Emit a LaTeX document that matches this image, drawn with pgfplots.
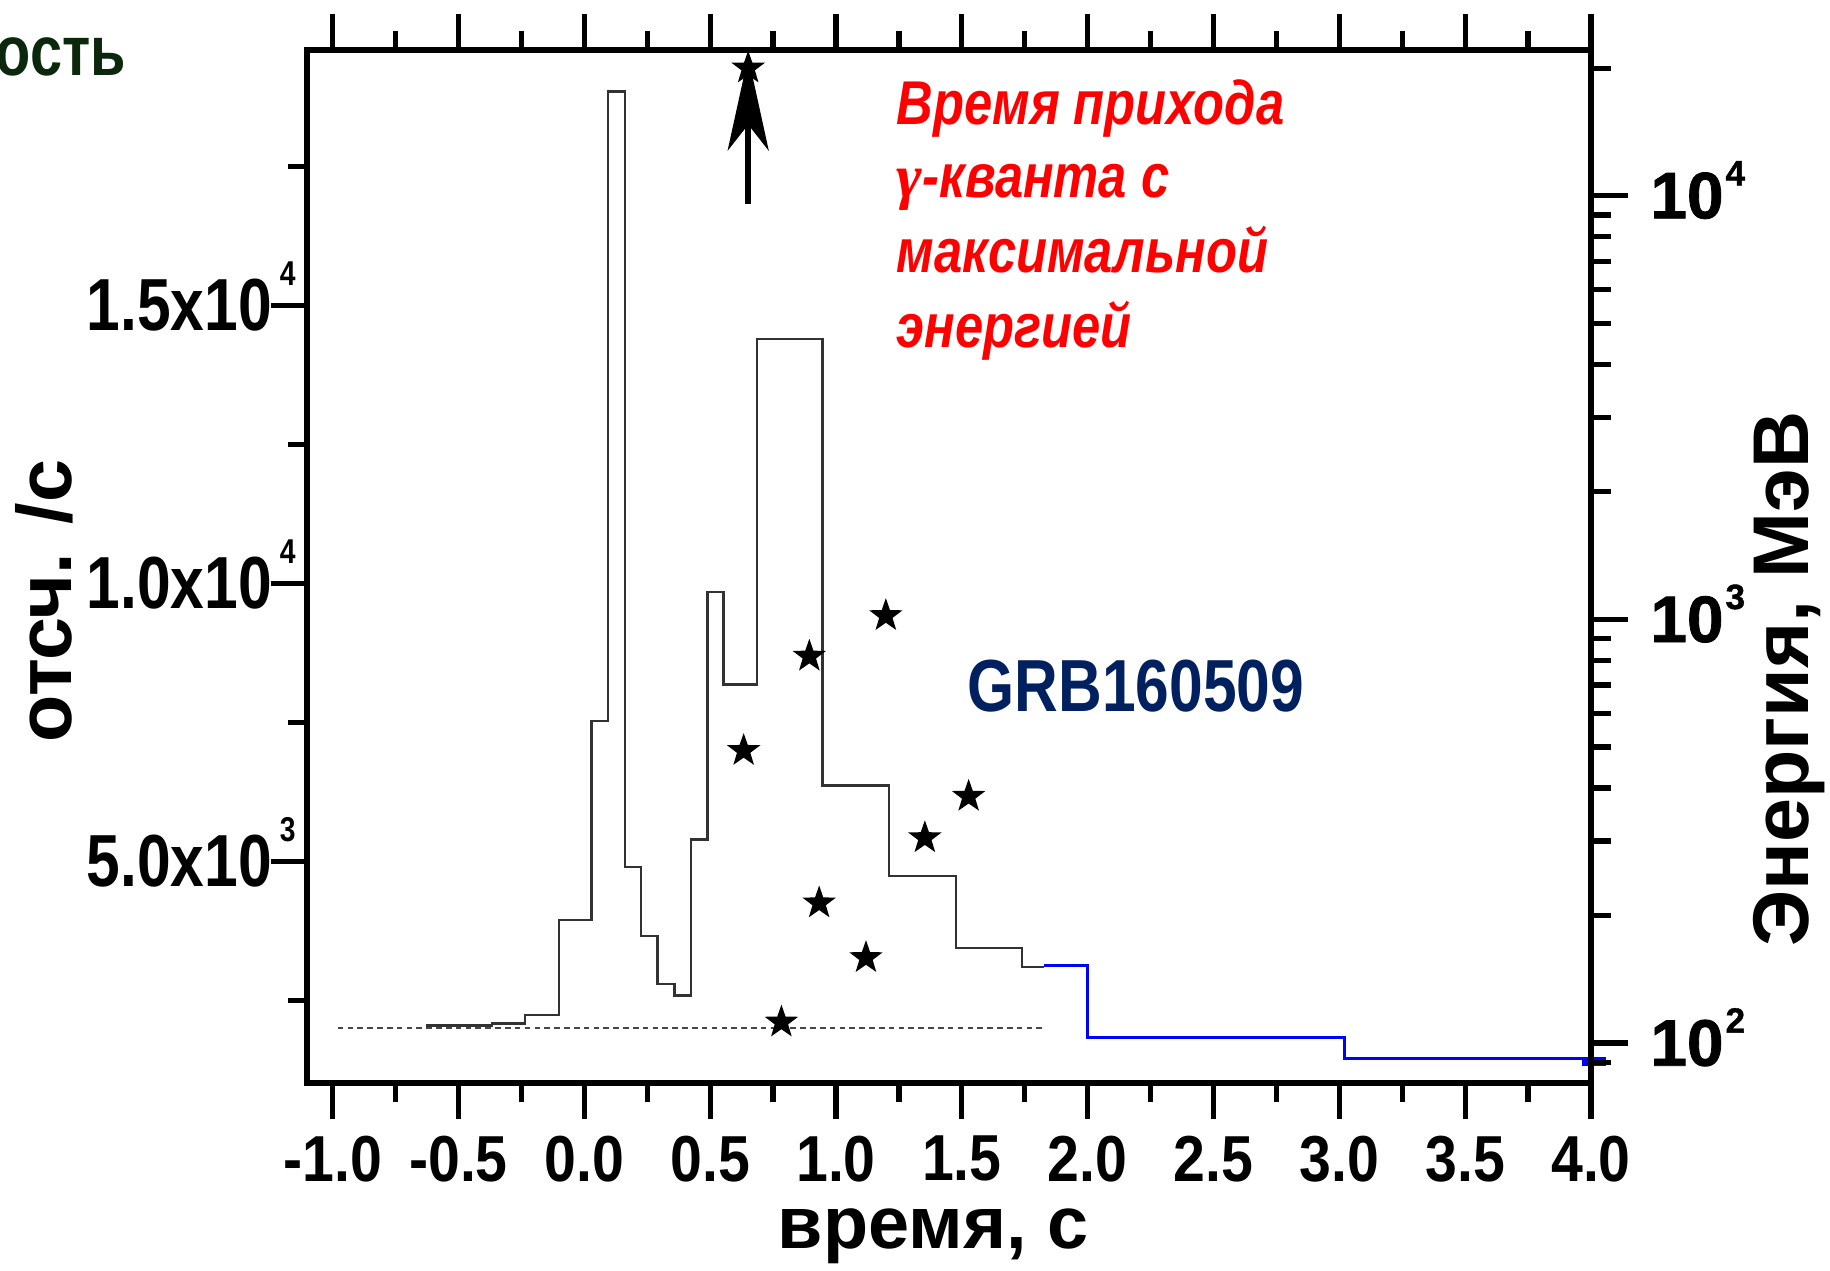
\documentclass[border=0pt]{standalone}
\usepackage{fontspec}
\usepackage{pgfplots}
\pgfplotsset{compat=1.18}
\usetikzlibrary{arrows.meta}
\setmainfont{Liberation Sans}
\newfontfamily\sqf[FakeStretch=0.82]{Liberation Sans}
\newfontfamily\tkf[FakeStretch=0.88]{Liberation Sans}
\newfontfamily\heavyf[UprightFont=* Bold, FakeBold=1.2]{Liberation Sans}
\newfontfamily\gammaf{Liberation Serif}
\definecolor{navy}{RGB}{0,32,96}
\definecolor{dgreen}{RGB}{12,40,12}
\definecolor{histgray}{RGB}{50,50,50}
\newcommand\lsup[1]{\hspace{0.08cm}\smash{\raisebox{0.45cm}{\fontsize{9.8}{9.8}\selectfont #1}}}
\newcommand\rsup[1]{\hspace{0.02cm}\smash{\raisebox{0.33cm}{\fontsize{10}{10}\selectfont #1}}}
\pgfdeclareplotmark{fstar}{%
  \pgfpathmoveto{\pgfpointpolar{90}{\pgfplotmarksize}}%
  \pgfpathlineto{\pgfpointpolar{126}{0.4\pgfplotmarksize}}%
  \pgfpathlineto{\pgfpointpolar{162}{\pgfplotmarksize}}%
  \pgfpathlineto{\pgfpointpolar{198}{0.4\pgfplotmarksize}}%
  \pgfpathlineto{\pgfpointpolar{234}{\pgfplotmarksize}}%
  \pgfpathlineto{\pgfpointpolar{270}{0.4\pgfplotmarksize}}%
  \pgfpathlineto{\pgfpointpolar{306}{\pgfplotmarksize}}%
  \pgfpathlineto{\pgfpointpolar{342}{0.4\pgfplotmarksize}}%
  \pgfpathlineto{\pgfpointpolar{18}{\pgfplotmarksize}}%
  \pgfpathlineto{\pgfpointpolar{54}{0.4\pgfplotmarksize}}%
  \pgfpathclose
  \pgfusepathqfill
}
\begin{document}
\begin{tikzpicture}
\useasboundingbox (0,0) rectangle (18.3,12.71);
% ---------- left axis: count rate ----------
\begin{axis}[
  at={(3.07cm,1.88cm)}, anchor=south west,
  scale only axis, width=12.84cm, height=10.33cm,
  xmin=-1.102, xmax=4.0, ymin=1010, ymax=19600,
  scaled ticks=false,
  axis line style={line width=1.6pt},
  tick style={line width=1.5pt, black},
  tick align=outside,
  major tick length=0.36cm, minor tick length=0.19cm,
  xtick={-1,-0.5,0,0.5,1,1.5,2,2.5,3,3.5,4},
  xticklabels={-1.0,-0.5,0.0,0.5,1.0,1.5,2.0,2.5,3.0,3.5,4.0},
  minor xtick={-0.75,-0.25,0.25,0.75,1.25,1.75,2.25,2.75,3.25,3.75},
  ytick={5000,10000,15000},
  yticklabels={{5.0x10\lsup{3}},{1.0x10\lsup{4}},{1.5x10\lsup{4}}},
  minor ytick={2500,7500,12500,17500},
  xtick pos=both, ytick pos=left,
  xticklabel style={font=\tkf\bfseries\fontsize{18.5}{18.5}\selectfont, anchor=north, inner sep=0pt, yshift=-0.16cm},
  yticklabel style={font=\sqf\bfseries\fontsize{21}{21}\selectfont, anchor=east, xshift=0.37cm},
  clip=false,
]
\addplot[gray!55!black, line width=0.7pt, dash pattern=on 1.6pt off 1.2pt] coordinates {(-0.98,2000) (1.83,2000)};
\addplot[histgray, line width=0.7pt, const plot mark left] coordinates {
(-0.630,2043) (-0.367,2080) (-0.235,2230) (-0.100,3941) (0.028,7525)
(0.094,18850) (0.161,4894) (0.226,3653) (0.290,2794) (0.359,2588)
(0.424,5395) (0.489,9844) (0.553,8183) (0.687,14400) (0.946,6360)
(1.211,4731) (1.476,3440) (1.739,3101) (1.828,3101)};
\addplot[blue, line width=0.85pt, const plot mark left] coordinates {
(1.828,3132) (2.000,1823) (3.020,1458) (4.000,1458)};
\addplot[blue, line width=2.6pt] coordinates {(3.965,1400) (4.06,1400)};
\end{axis}
% ---------- right axis: photon energy ----------
\begin{axis}[
  at={(3.07cm,1.88cm)}, anchor=south west,
  scale only axis, width=12.84cm, height=10.33cm,
  xmin=-1.102, xmax=4.0, ymode=log, ymin=80.5, ymax=22080,
  axis x line=none, axis y line*=right,
  y axis line style={-, line width=1.6pt},
  tick style={line width=1.5pt, black},
  tick align=outside,
  major tick length=0.37cm, minor tick length=0.2cm,
  ytick={100,1000,10000},
  yticklabels={{10\rsup{2}},{10\rsup{3}},{10\rsup{4}}},
  minor ytick={90,200,300,400,500,600,700,800,900,2000,3000,4000,5000,6000,7000,8000,9000,20000},
  yticklabel style={font=\heavyf\fontsize{18.7}{18.7}\selectfont, anchor=west, xshift=0.1cm},
]
\draw[black, line width=1.6pt, -{Stealth[length=9.4mm,width=4.1mm,inset=2.6mm]}]
  (axis cs:0.651,9570) -- (axis cs:0.651,21300);
\addplot[only marks, mark=fstar, mark size=5pt, black] coordinates {
(0.651,20000) (0.633,490) (0.894,818) (1.198,1020) (1.527,382)
(1.353,305) (0.933,214) (1.119,159) (0.783,112)};
\end{axis}
% ---------- texts ----------
\node[anchor=base west, inner sep=0, text=dgreen, font=\sqf\bfseries\fontsize{20}{20}\selectfont] at (-0.05,11.95) {ость};
\node[anchor=base west, inner sep=0, text=navy, font=\sqf\bfseries\fontsize{21}{21}\selectfont] at (9.67,5.59) {GRB160509};
\node[anchor=base west, inner sep=0, text=red, font=\sqf\bfseries\itshape\fontsize{17.6}{17.6}\selectfont] at (8.96,11.46) {Время прихода};
\node[anchor=base west, inner sep=0, text=red, font=\sqf\bfseries\itshape\fontsize{17.6}{17.6}\selectfont] at (8.96,10.73) {{\gammaf\itshape\bfseries γ}-кванта с};
\node[anchor=base west, inner sep=0, text=red, font=\sqf\bfseries\itshape\fontsize{17.6}{17.6}\selectfont] at (8.96,9.98) {максимальной};
\node[anchor=base west, inner sep=0, text=red, font=\sqf\bfseries\itshape\fontsize{17.6}{17.6}\selectfont] at (8.96,9.23) {энергией};
\node[anchor=base, inner sep=0, font=\bfseries\fontsize{21}{21}\selectfont] at (9.33,0.22) {время, с};
\node[anchor=base, rotate=90, inner sep=0, font=\bfseries\fontsize{22}{22}\selectfont] at (0.72,6.70) {отсч. /с};
\node[anchor=base, rotate=90, inner sep=0, font=\bfseries\fontsize{22.5}{22.5}\selectfont] at (18.08,5.92) {Энергия, МэВ};
\end{tikzpicture}
\end{document}
